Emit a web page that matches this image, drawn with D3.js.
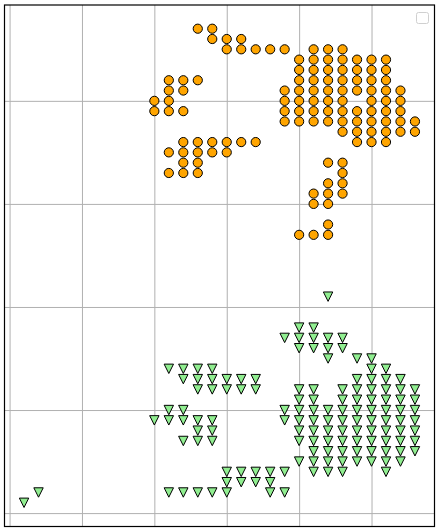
<!DOCTYPE html>
<html>
<head>
<meta charset="utf-8">
<script src="https://cdn.jsdelivr.net/npm/d3@7"></script>
<style>
  html, body { margin: 0; padding: 0; background: #fff; }
  svg { display: block; }
</style>
</head>
<body>
<div id="chart"></div>
<script>
// ---- data: each row is [y, [x values]] ----
const circleRows = [
  [47, [13, 14]],
  [46, [14, 15, 16]],
  [45, [15, 16, 17, 18, 19, 21, 22, 23]],
  [44, [20, 21, 22, 23, 24, 25, 26]],
  [43, [20, 21, 22, 23, 24, 25, 26]],
  [42, [11, 12, 13, 20, 21, 22, 23, 24, 25, 26]],
  [41, [11, 12, 19, 20, 21, 22, 23, 24, 25, 26, 27]],
  [40, [10, 11, 19, 20, 21, 22, 23, 25, 26, 27]],
  [39, [10, 11, 12, 19, 20, 21, 22, 23, 24, 25, 26, 27]],
  [38, [19, 20, 21, 22, 23, 24, 25, 26, 27, 28]],
  [37, [23, 24, 25, 26, 27, 28]],
  [36, [12, 13, 14, 15, 16, 17, 24, 25, 26]],
  [35, [11, 12, 13, 14, 15]],
  [34, [12, 13, 22, 23]],
  [33, [11, 12, 13, 23]],
  [32, [22, 23]],
  [31, [21, 22, 23]],
  [30, [21, 22]],
  [28, [22]],
  [27, [20, 21, 22]]
];
const triangleRows = [
  [21, [22]],
  [18, [20, 21]],
  [17, [19, 20, 21, 22, 23]],
  [16, [20, 21, 22, 23]],
  [15, [22, 24, 25]],
  [14, [11, 12, 13, 14, 25, 26]],
  [13, [12, 13, 14, 15, 16, 17, 24, 25, 26, 27]],
  [12, [13, 14, 15, 16, 17, 20, 21, 23, 24, 25, 26, 27, 28]],
  [11, [20, 21, 23, 24, 25, 26, 27, 28]],
  [10, [11, 12, 19, 20, 21, 22, 23, 24, 25, 26, 27, 28]],
  [9,  [10, 11, 12, 13, 14, 19, 20, 21, 22, 23, 24, 25, 26, 27, 28]],
  [8,  [13, 14, 20, 21, 22, 23, 24, 25, 26, 27, 28]],
  [7,  [12, 13, 14, 20, 21, 22, 23, 24, 25, 26, 27, 28]],
  [6,  [21, 22, 23, 24, 25, 26, 27, 28]],
  [5,  [20, 21, 22, 23, 24, 25, 26, 27]],
  [4,  [15, 16, 17, 18, 19, 21, 22, 23, 26]],
  [3,  [15, 16, 17, 18]],
  [2,  [2, 11, 12, 13, 14, 15, 18, 19]],
  [1,  [1]]
];
const xTicks = [0, 5, 10, 15, 20, 25];
const yTicks = [0, 10, 20, 30, 40];
const xDomain = [-0.35, 29.35];
const yDomain = [-1.3, 49.3];

// ---- layout ----
const W = 438, H = 532;
const mLeft = 4.5, mRight = 434.5, mTop = 5, mBottom = 526.5;

const svg = d3.select("#chart").append("svg")
  .attr("width", W).attr("height", H);

const x = d3.scaleLinear().domain(xDomain).range([mLeft, mRight]);
const y = d3.scaleLinear().domain(yDomain).range([mBottom, mTop]);

// grid via axes
const gx = svg.append("g")
  .attr("transform", `translate(0,${mBottom})`)
  .call(d3.axisBottom(x).tickValues(xTicks).tickFormat("").tickSize(-(mBottom - mTop)).tickSizeOuter(0));
const gy = svg.append("g")
  .attr("transform", `translate(${mLeft},0)`)
  .call(d3.axisLeft(y).tickValues(yTicks).tickFormat("").tickSize(-(mRight - mLeft)).tickSizeOuter(0));
[gx, gy].forEach(g => {
  g.select(".domain").remove();
  g.selectAll(".tick line").attr("stroke", "#b0b0b0").attr("stroke-width", 1);
});

const flat = rows => rows.flatMap(([yy, xs]) => xs.map(xx => ({x: xx, y: yy})));

// circles
svg.append("g").selectAll("circle")
  .data(flat(circleRows))
  .join("circle")
  .attr("cx", d => x(d.x))
  .attr("cy", d => y(d.y))
  .attr("r", 4.6)
  .attr("fill", "#ffa500")
  .attr("stroke", "#000")
  .attr("stroke-width", 1);

// downward triangles
const s = 9.4;
const triPath = `M${-s/2},${-s/2}L${s/2},${-s/2}L0,${s/2}Z`;
svg.append("g").selectAll("path")
  .data(flat(triangleRows))
  .join("path")
  .attr("transform", d => `translate(${x(d.x)},${y(d.y)})`)
  .attr("d", triPath)
  .attr("fill", "#90ee90")
  .attr("stroke", "#000")
  .attr("stroke-width", 1);

// frame
svg.append("rect")
  .attr("x", mLeft).attr("y", mTop)
  .attr("width", mRight - mLeft).attr("height", mBottom - mTop)
  .attr("fill", "none").attr("stroke", "#000").attr("stroke-width", 1.2);

// empty legend box
svg.append("rect")
  .attr("x", 416.5).attr("y", 12.5)
  .attr("width", 12).attr("height", 11).attr("rx", 2)
  .attr("fill", "#fff").attr("fill-opacity", 0.8)
  .attr("stroke", "#d0d0d0").attr("stroke-width", 1);
</script>
</body>
</html>
